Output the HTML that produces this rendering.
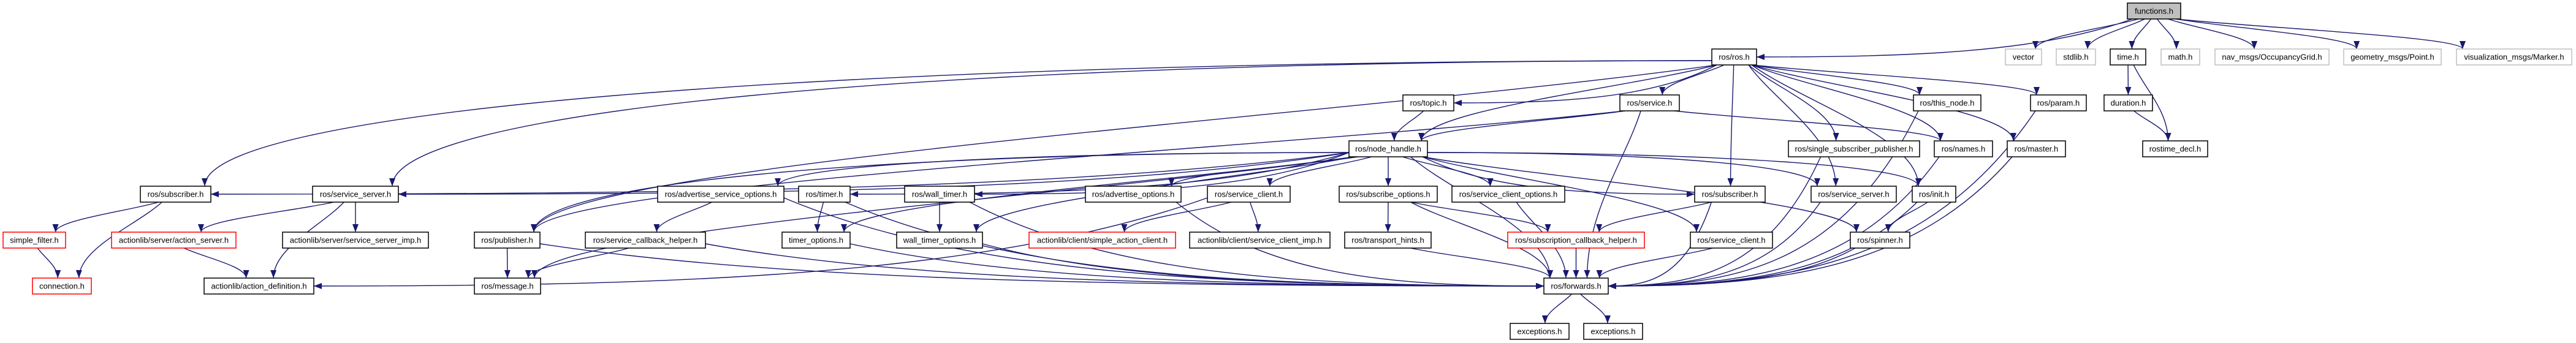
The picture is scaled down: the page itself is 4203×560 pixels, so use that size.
<!DOCTYPE html>
<html><head><meta charset="utf-8"><style>
html,body{margin:0;padding:0;background:#fff;width:4203px;height:560px;overflow:hidden}
svg text{font-family:"Liberation Sans",sans-serif;font-size:13px;fill:#000}
</style></head><body>
<svg id="g" width="4203" height="560" xmlns="http://www.w3.org/2000/svg">
<defs><marker id="a" markerUnits="userSpaceOnUse" markerWidth="14" markerHeight="10" refX="13" refY="5" orient="auto"><path d="M0,0 L13,5 L0,10 z" fill="#191970"/></marker></defs>
<g id="edges" fill="none" stroke="#191970" stroke-width="1.4"></g>
<g id="nodes">
<rect x="3471" y="5" width="87" height="26" fill="#bfbfbf" stroke="#000" stroke-width="1.5"/><text x="3514.5" y="22.5" text-anchor="middle">functions.h</text>
<rect x="2793" y="80" width="73" height="26" fill="#fff" stroke="#000" stroke-width="1.5"/><text x="2829.5" y="97.5" text-anchor="middle">ros/ros.h</text>
<rect x="3272" y="80" width="59" height="26" fill="#fff" stroke="#bfbfbf" stroke-width="1.5"/><text x="3301.5" y="97.5" text-anchor="middle">vector</text>
<rect x="3355" y="80" width="64" height="26" fill="#fff" stroke="#bfbfbf" stroke-width="1.5"/><text x="3387" y="97.5" text-anchor="middle">stdlib.h</text>
<rect x="3443" y="80" width="58" height="26" fill="#fff" stroke="#000" stroke-width="1.5"/><text x="3472" y="97.5" text-anchor="middle">time.h</text>
<rect x="3526" y="80" width="63" height="26" fill="#fff" stroke="#bfbfbf" stroke-width="1.5"/><text x="3557.5" y="97.5" text-anchor="middle">math.h</text>
<rect x="3614" y="80" width="186" height="26" fill="#fff" stroke="#bfbfbf" stroke-width="1.5"/><text x="3707" y="97.5" text-anchor="middle">nav_msgs/OccupancyGrid.h</text>
<rect x="3824" y="80" width="159" height="26" fill="#fff" stroke="#bfbfbf" stroke-width="1.5"/><text x="3903.5" y="97.5" text-anchor="middle">geometry_msgs/Point.h</text>
<rect x="4008" y="80" width="188" height="26" fill="#fff" stroke="#bfbfbf" stroke-width="1.5"/><text x="4102" y="97.5" text-anchor="middle">visualization_msgs/Marker.h</text>
<rect x="2289" y="155" width="83" height="26" fill="#fff" stroke="#000" stroke-width="1.5"/><text x="2330.5" y="172.5" text-anchor="middle">ros/topic.h</text>
<rect x="2643" y="155" width="97" height="26" fill="#fff" stroke="#000" stroke-width="1.5"/><text x="2691.5" y="172.5" text-anchor="middle">ros/service.h</text>
<rect x="3122" y="155" width="110" height="26" fill="#fff" stroke="#000" stroke-width="1.5"/><text x="3177" y="172.5" text-anchor="middle">ros/this_node.h</text>
<rect x="3313" y="155" width="91" height="26" fill="#fff" stroke="#000" stroke-width="1.5"/><text x="3358.5" y="172.5" text-anchor="middle">ros/param.h</text>
<rect x="3433" y="155" width="79" height="26" fill="#fff" stroke="#000" stroke-width="1.5"/><text x="3472.5" y="172.5" text-anchor="middle">duration.h</text>
<rect x="2201" y="230" width="128" height="26" fill="#fff" stroke="#000" stroke-width="1.5"/><text x="2265" y="247.5" text-anchor="middle">ros/node_handle.h</text>
<rect x="2918" y="230" width="214" height="26" fill="#fff" stroke="#000" stroke-width="1.5"/><text x="3025" y="247.5" text-anchor="middle">ros/single_subscriber_publisher.h</text>
<rect x="3156" y="230" width="95" height="26" fill="#fff" stroke="#000" stroke-width="1.5"/><text x="3203.5" y="247.5" text-anchor="middle">ros/names.h</text>
<rect x="3275" y="230" width="95" height="26" fill="#fff" stroke="#000" stroke-width="1.5"/><text x="3322.5" y="247.5" text-anchor="middle">ros/master.h</text>
<rect x="3496" y="230" width="106" height="26" fill="#fff" stroke="#000" stroke-width="1.5"/><text x="3549" y="247.5" text-anchor="middle">rostime_decl.h</text>
<rect x="229" y="304" width="115" height="26" fill="#fff" stroke="#000" stroke-width="1.5"/><text x="286.5" y="321.5" text-anchor="middle">ros/subscriber.h</text>
<rect x="510" y="304" width="140" height="26" fill="#fff" stroke="#000" stroke-width="1.5"/><text x="580" y="321.5" text-anchor="middle">ros/service_server.h</text>
<rect x="1073" y="304" width="206" height="26" fill="#fff" stroke="#000" stroke-width="1.5"/><text x="1176" y="321.5" text-anchor="middle">ros/advertise_service_options.h</text>
<rect x="1303" y="304" width="84" height="26" fill="#fff" stroke="#000" stroke-width="1.5"/><text x="1345" y="321.5" text-anchor="middle">ros/timer.h</text>
<rect x="1476" y="304" width="114" height="26" fill="#fff" stroke="#000" stroke-width="1.5"/><text x="1533" y="321.5" text-anchor="middle">ros/wall_timer.h</text>
<rect x="1771" y="304" width="156" height="26" fill="#fff" stroke="#000" stroke-width="1.5"/><text x="1849" y="321.5" text-anchor="middle">ros/advertise_options.h</text>
<rect x="1970" y="304" width="135" height="26" fill="#fff" stroke="#000" stroke-width="1.5"/><text x="2037.5" y="321.5" text-anchor="middle">ros/service_client.h</text>
<rect x="2185" y="304" width="160" height="26" fill="#fff" stroke="#000" stroke-width="1.5"/><text x="2265" y="321.5" text-anchor="middle">ros/subscribe_options.h</text>
<rect x="2369" y="304" width="184" height="26" fill="#fff" stroke="#000" stroke-width="1.5"/><text x="2461" y="321.5" text-anchor="middle">ros/service_client_options.h</text>
<rect x="2765" y="304" width="115" height="26" fill="#fff" stroke="#000" stroke-width="1.5"/><text x="2822.5" y="321.5" text-anchor="middle">ros/subscriber.h</text>
<rect x="2955" y="304" width="139" height="26" fill="#fff" stroke="#000" stroke-width="1.5"/><text x="3024.5" y="321.5" text-anchor="middle">ros/service_server.h</text>
<rect x="3120" y="304" width="71" height="26" fill="#fff" stroke="#000" stroke-width="1.5"/><text x="3155.5" y="321.5" text-anchor="middle">ros/init.h</text>
<rect x="5" y="379" width="102" height="26" fill="#fff" stroke="#f00" stroke-width="1.5"/><text x="56" y="396.5" text-anchor="middle">simple_filter.h</text>
<rect x="182" y="379" width="203" height="26" fill="#fff" stroke="#f00" stroke-width="1.5"/><text x="283.5" y="396.5" text-anchor="middle">actionlib/server/action_server.h</text>
<rect x="461" y="379" width="238" height="26" fill="#fff" stroke="#000" stroke-width="1.5"/><text x="580" y="396.5" text-anchor="middle">actionlib/server/service_server_imp.h</text>
<rect x="774" y="379" width="107" height="26" fill="#fff" stroke="#000" stroke-width="1.5"/><text x="827.5" y="396.5" text-anchor="middle">ros/publisher.h</text>
<rect x="955" y="379" width="196" height="26" fill="#fff" stroke="#000" stroke-width="1.5"/><text x="1053" y="396.5" text-anchor="middle">ros/service_callback_helper.h</text>
<rect x="1276" y="379" width="111" height="26" fill="#fff" stroke="#000" stroke-width="1.5"/><text x="1331.5" y="396.5" text-anchor="middle">timer_options.h</text>
<rect x="1463" y="379" width="140" height="26" fill="#fff" stroke="#000" stroke-width="1.5"/><text x="1533" y="396.5" text-anchor="middle">wall_timer_options.h</text>
<rect x="1679" y="379" width="239" height="26" fill="#fff" stroke="#f00" stroke-width="1.5"/><text x="1798.5" y="396.5" text-anchor="middle">actionlib/client/simple_action_client.h</text>
<rect x="1941" y="379" width="229" height="26" fill="#fff" stroke="#000" stroke-width="1.5"/><text x="2055.5" y="396.5" text-anchor="middle">actionlib/client/service_client_imp.h</text>
<rect x="2194" y="379" width="141" height="26" fill="#fff" stroke="#000" stroke-width="1.5"/><text x="2264.5" y="396.5" text-anchor="middle">ros/transport_hints.h</text>
<rect x="2460" y="379" width="223" height="26" fill="#fff" stroke="#f00" stroke-width="1.5"/><text x="2571.5" y="396.5" text-anchor="middle">ros/subscription_callback_helper.h</text>
<rect x="2758" y="379" width="134" height="26" fill="#fff" stroke="#000" stroke-width="1.5"/><text x="2825" y="396.5" text-anchor="middle">ros/service_client.h</text>
<rect x="3019" y="379" width="97" height="26" fill="#fff" stroke="#000" stroke-width="1.5"/><text x="3067.5" y="396.5" text-anchor="middle">ros/spinner.h</text>
<rect x="53" y="454" width="96" height="26" fill="#fff" stroke="#f00" stroke-width="1.5"/><text x="101" y="471.5" text-anchor="middle">connection.h</text>
<rect x="333" y="454" width="179" height="26" fill="#fff" stroke="#000" stroke-width="1.5"/><text x="422.5" y="471.5" text-anchor="middle">actionlib/action_definition.h</text>
<rect x="774" y="454" width="108" height="26" fill="#fff" stroke="#000" stroke-width="1.5"/><text x="828" y="471.5" text-anchor="middle">ros/message.h</text>
<rect x="2519" y="454" width="105" height="26" fill="#fff" stroke="#000" stroke-width="1.5"/><text x="2571.5" y="471.5" text-anchor="middle">ros/forwards.h</text>
<rect x="2464" y="528" width="96" height="26" fill="#fff" stroke="#000" stroke-width="1.5"/><text x="2512" y="545.5" text-anchor="middle">exceptions.h</text>
<rect x="2584" y="528" width="96" height="26" fill="#fff" stroke="#000" stroke-width="1.5"/><text x="2632" y="545.5" text-anchor="middle">exceptions.h</text>
</g>
</svg>
<script>
var N={};
document.querySelectorAll('#nodes rect').forEach(function(r){
  var t=r.nextElementSibling.textContent;
  var x=+r.getAttribute('x'),y=+r.getAttribute('y'),w=+r.getAttribute('width');
  var o={x1:x,x2:x+w,y1:y,y2:y+26,cx:x+w/2,cy:y+13};
  N[t+'@'+x]=o; if(!N[t]) N[t]=o;
});
// S = side entry at target
var E=[
['functions.h','ros/ros.h','S'],['functions.h','vector'],['functions.h','stdlib.h'],['functions.h','time.h'],['functions.h','math.h'],['functions.h','nav_msgs/OccupancyGrid.h'],['functions.h','geometry_msgs/Point.h'],['functions.h','visualization_msgs/Marker.h'],
['time.h','duration.h'],['time.h','rostime_decl.h'],['duration.h','rostime_decl.h'],
['ros/ros.h','ros/subscriber.h@229'],['ros/ros.h','ros/service_server.h@510'],['ros/ros.h','ros/publisher.h'],['ros/ros.h','ros/topic.h','S'],['ros/ros.h','ros/service.h'],['ros/ros.h','ros/node_handle.h'],['ros/ros.h','ros/single_subscriber_publisher.h'],['ros/ros.h','ros/subscriber.h@2765'],['ros/ros.h','ros/service_server.h@2955'],['ros/ros.h','ros/init.h'],['ros/ros.h','ros/names.h'],['ros/ros.h','ros/master.h'],['ros/ros.h','ros/this_node.h'],['ros/ros.h','ros/param.h'],
['ros/topic.h','ros/node_handle.h'],['ros/service.h','ros/node_handle.h'],['ros/service.h','ros/names.h'],['ros/service.h','ros/forwards.h'],['ros/service.h','ros/publisher.h'],
['ros/node_handle.h','ros/subscriber.h@229','S'],['ros/node_handle.h','ros/service_server.h@510','S'],['ros/node_handle.h','ros/publisher.h'],['ros/node_handle.h','ros/advertise_service_options.h'],['ros/node_handle.h','ros/timer.h','S'],['ros/node_handle.h','ros/wall_timer.h','S'],['ros/node_handle.h','timer_options.h'],['ros/node_handle.h','wall_timer_options.h'],['ros/node_handle.h','ros/advertise_options.h'],['ros/node_handle.h','ros/service_client.h@1970'],['ros/node_handle.h','ros/subscribe_options.h'],['ros/node_handle.h','ros/service_client_options.h'],['ros/node_handle.h','ros/subscriber.h@2765','S'],['ros/node_handle.h','ros/service_server.h@2955'],['ros/node_handle.h','ros/spinner.h'],['ros/node_handle.h','ros/service_client.h@2758'],['ros/node_handle.h','ros/init.h'],['ros/node_handle.h','ros/forwards.h'],['ros/node_handle.h','ros/message.h'],
['ros/subscriber.h@229','simple_filter.h'],['ros/subscriber.h@229','connection.h'],['simple_filter.h','connection.h'],
['ros/service_server.h@510','actionlib/server/action_server.h'],['ros/service_server.h@510','actionlib/action_definition.h'],['ros/service_server.h@510','actionlib/server/service_server_imp.h'],['actionlib/server/action_server.h','actionlib/action_definition.h'],
['ros/publisher.h','ros/message.h'],['ros/publisher.h','ros/forwards.h','S'],['ros/service_callback_helper.h','ros/message.h'],['ros/service_callback_helper.h','ros/forwards.h','S'],
['ros/advertise_service_options.h','ros/service_callback_helper.h'],['ros/advertise_service_options.h','ros/forwards.h','S'],['ros/timer.h','timer_options.h'],['ros/timer.h','ros/forwards.h','S'],['ros/wall_timer.h','wall_timer_options.h'],['ros/wall_timer.h','ros/forwards.h','S'],['ros/advertise_options.h','ros/forwards.h','S'],
['ros/service_client.h@1970','actionlib/client/simple_action_client.h'],['ros/service_client.h@1970','actionlib/client/service_client_imp.h'],['ros/service_client.h@1970','actionlib/action_definition.h','S'],
['timer_options.h','ros/forwards.h','S'],['wall_timer_options.h','ros/forwards.h','S'],
['ros/subscribe_options.h','ros/transport_hints.h'],['ros/subscribe_options.h','ros/subscription_callback_helper.h'],['ros/subscribe_options.h','ros/forwards.h'],['ros/service_client_options.h','ros/forwards.h'],['ros/transport_hints.h','ros/forwards.h'],['ros/subscription_callback_helper.h','ros/forwards.h'],['ros/service_client.h@2758','ros/forwards.h'],
['ros/subscriber.h@2765','ros/subscription_callback_helper.h'],['ros/subscriber.h@2765','ros/forwards.h','S'],['ros/service_server.h@2955','ros/forwards.h','S'],['ros/spinner.h','ros/forwards.h','S'],['ros/init.h','ros/spinner.h'],['ros/init.h','ros/forwards.h','S'],
['ros/single_subscriber_publisher.h','ros/forwards.h','S'],['ros/names.h','ros/forwards.h','S'],['ros/master.h','ros/forwards.h','S'],['ros/this_node.h','ros/forwards.h','S'],['ros/param.h','ros/forwards.h','S'],
['ros/forwards.h','exceptions.h@2464'],['ros/forwards.h','exceptions.h@2584']
];
var d='';
E.forEach(function(e){
  var s=N[e[0]],t=N[e[1]]; if(!s||!t) return;
  var sx,sy,tx,ty,p,dy=t.y1-s.y2,dx=t.cx-s.cx;
  var sideExit=Math.abs(dx)>8*Math.max(dy,1)+300;
  if(sideExit){sx=dx<0?s.x1:s.x2;sy=s.cy+6;}
  else{sx=s.cx+Math.max(-(s.x2-s.x1)/2+8,Math.min((s.x2-s.x1)/2-8,dx*0.12));sy=s.y2;}
  if(e[2]=='S'){
    var right=s.cx>t.cx;
    tx=right?t.x2:t.x1; ty=t.cy;
    var h=(ty-sy);
    p='M'+sx+','+sy+' C'+(sx+(tx-sx)*0.25)+','+(sy+h*0.9)+' '+(tx+(sx-tx)*0.4)+','+ty+' '+tx+','+ty;
  } else {
    tx=t.cx+Math.max(-(t.x2-t.x1)/2+10,Math.min((t.x2-t.x1)/2-10,-dx*0.15));ty=t.y1;
    var h=ty-sy;
    if(sideExit) p='M'+sx+','+sy+' C'+(sx+(tx-sx)*0.6)+','+sy+' '+tx+','+(ty-h*0.6)+' '+tx+','+ty;
    else p='M'+sx+','+sy+' C'+(sx+(tx-sx)*0.3)+','+(sy+h*0.3)+' '+tx+','+(ty-h*0.4)+' '+tx+','+ty;
  }
  d+='<path d="'+p+'" marker-end="url(#a)"/>';
});
document.getElementById('edges').innerHTML=d;
</script>
</body></html>
